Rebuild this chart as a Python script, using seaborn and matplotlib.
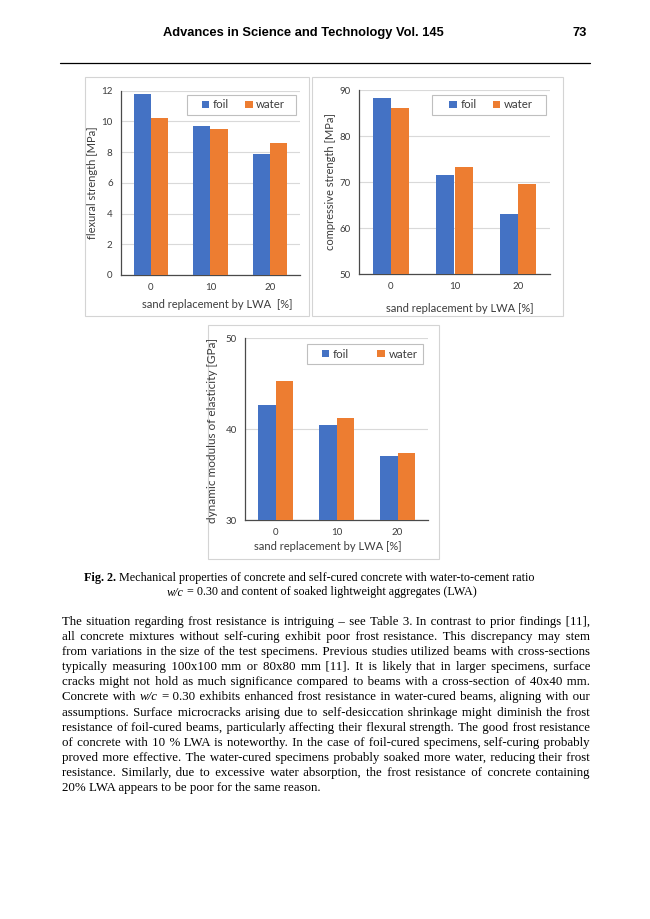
import numpy as np
import pandas as pd
import seaborn as sns
import matplotlib.pyplot as plt
from matplotlib.patches import Rectangle
from matplotlib.lines import Line2D

# data
lwa = ["0", "10", "20"]
curing = ["foil", "water"]
flex_foil = [11.8, 9.7, 7.9]
flex_water = [10.2, 9.5, 8.6]
comp_foil = [88.3, 71.5, 63.1]
comp_water = [86.1, 73.2, 69.6]
edyn_foil = [42.6, 40.4, 37.0]
edyn_water = [45.3, 41.2, 37.4]

colors = {"foil": "#4472C4", "water": "#ED7D31"}
txt_col = "#3c3c3c"

header = "Advances in Science and Technology Vol. 145"
page_no = "73"
caption_1 = [("bold", "Fig. 2."), ("normal", "Mechanical properties of concrete and self-cured concrete with water-to-cement ratio")]
caption_2 = [("italic", "w/c"), ("normal", "= 0.30 and content of soaked lightweight  aggregates (LWA)")]
body = [
    "The situation regarding frost resistance is intriguing – see Table 3. In contrast to prior findings [11],",
    "all concrete mixtures without self-curing exhibit poor frost resistance. This discrepancy may stem",
    "from variations in the size of the test specimens. Previous studies utilized beams with cross-sections",
    "typically measuring 100x100 mm or 80x80 mm [11]. It is likely that in larger specimens, surface",
    "cracks might not hold as much significance compared to beams with a cross-section of 40x40 mm.",
    "Concrete with w/c = 0.30 exhibits enhanced frost resistance in water-cured beams, aligning with our",
    "assumptions. Surface microcracks arising due to self-desiccation shrinkage might diminish the frost",
    "resistance of foil-cured beams, particularly affecting their flexural strength. The good frost resistance",
    "of concrete with 10 % LWA is noteworthy. In the case of foil-cured specimens, self-curing probably",
    "proved more effective. The water-cured specimens probably soaked more water, reducing their frost",
    "resistance. Similarly, due to excessive water absorption, the frost resistance of concrete containing",
    "20% LWA appears to be poor for the same reason.",
]
italic_words = {"w/c"}

W, H = 650, 919
sns.set_style("white")
plt.rcParams["font.family"] = ["Lato", "DejaVu Sans"]
fig = plt.figure(figsize=(W / 100, H / 100), dpi=100)
rend = fig.canvas.get_renderer()


def fx(x):
    return x / W


def fy(y):
    return 1 - y / H


def bar_panel(box, panel, foil, water, ylim, yticks, ylabel, ylab_xy, ylab_fs, xlabel, xlab_xy, legbox, colsp):
    fig.add_artist(Rectangle((fx(panel[0]), fy(panel[3])), fx(panel[2] - panel[0]), (panel[3] - panel[1]) / H,
                             transform=fig.transFigure, fill=False, ec="#d4d4d4", lw=0.8))
    ax = fig.add_axes([fx(box[0]), fy(box[3]), fx(box[2] - box[0]), (box[3] - box[1]) / H])
    df = pd.DataFrame({"lwa": lwa * 2, "curing": ["foil"] * 3 + ["water"] * 3, "val": foil + water})
    sns.barplot(data=df, x="lwa", y="val", hue="curing", hue_order=curing, palette=colors,
                width=0.57, gap=0, saturation=1, linewidth=0, ax=ax, zorder=3)
    ax.get_legend().remove()
    ax.set_xlim(-0.5, 2.5)
    ax.set_ylim(*ylim)
    ax.set_yticks(yticks)
    ax.set_xlabel("")
    ax.set_ylabel("")
    ax.yaxis.grid(True, color="#d9d9d9", lw=0.8, zorder=0)
    ax.set_axisbelow(True)
    for s in ["top", "right"]:
        ax.spines[s].set_visible(False)
    for s in ["left", "bottom"]:
        ax.spines[s].set_color("#4a4a4a")
        ax.spines[s].set_linewidth(0.9)
    ax.tick_params(axis="x", which="major", length=0, pad=6, labelsize=7, labelcolor=txt_col)
    ax.set_xticks([-0.5, 0.5, 1.5, 2.5], minor=True)
    ax.tick_params(axis="x", which="minor", direction="inout", length=5, width=0.9, color="#4a4a4a")
    ax.tick_params(axis="y", direction="out", length=4, width=0.9, color="#4a4a4a", pad=2,
                   labelsize=7, labelcolor=txt_col)
    fig.text(fx(ylab_xy[0]), fy(ylab_xy[1]), ylabel, rotation=90, ha="center", va="center",
             fontsize=ylab_fs, color=txt_col)
    fig.text(fx(xlab_xy[0]), fy(xlab_xy[1]), xlabel, ha="center", va="center", fontsize=8, color=txt_col)
    fig.add_artist(Rectangle((fx(legbox[0]), fy(legbox[3])), fx(legbox[2] - legbox[0]), (legbox[3] - legbox[1]) / H,
                             transform=fig.transFigure, fill=False, ec="#bfbfbf", lw=0.8))
    handles = [Rectangle((0, 0), 1, 1, fc=colors[c], lw=0) for c in curing]
    ax.legend(handles, curing, ncol=2, loc="center", frameon=False,
              bbox_to_anchor=(fx(legbox[4]), fy((legbox[1] + legbox[3]) / 2)),
              bbox_transform=fig.transFigure, handlelength=0.65, handleheight=0.65, handletextpad=0.3,
              columnspacing=colsp, borderpad=0, prop={"size": 8.3}, labelcolor=txt_col)
    return ax


bar_panel((121, 90.7, 300, 275), (85, 77, 309, 316), flex_foil, flex_water, (0, 12), np.arange(0, 13, 2),
          "flexural strength [MPa]", (93, 182.5), 8, "sand replacement by LWA  [%]", (217, 305),
          (187, 95, 296, 115, 243.5), 1.4)
bar_panel((359, 90, 550, 274), (312, 77, 563, 316), comp_foil, comp_water, (50, 90), np.arange(50, 91, 10),
          "compressive strength [MPa]", (330, 181.5), 8, "sand replacement by LWA [%]", (460, 308),
          (432, 95, 546, 115, 491), 1.4)
bar_panel((245, 338, 428, 520), (208, 325, 439, 559), edyn_foil, edyn_water, (30, 50), [30, 40, 50],
          "dynamic modulus of elasticity [GPa]", (213, 430), 8.5, "sand replacement by LWA [%]", (327.5, 547),
          (307, 344, 423, 364, 369.5), 2.5)

# page text
serif = ["Liberation Serif", "DejaVu Serif"]
fs = 9.25
fs_cap = 8.75
HAIR = "\u200a"
fig.text(fx(303), fy(33), header, ha="center", va="center", fontsize=fs, fontweight="bold",
         family=["Liberation Sans", "DejaVu Sans"], color="black")
fig.text(fx(587), fy(33), page_no, ha="right", va="center", fontsize=fs, fontweight="bold",
         family=["Liberation Sans", "DejaVu Sans"], color="black")
fig.add_artist(Line2D([fx(60), fx(590)], [fy(63.3), fy(63.3)], color="black", lw=0.9))


def make(s, style, size):
    kw = dict(fontsize=size, family=serif, color="black", va="baseline", ha="left")
    if style == "bold":
        kw["fontweight"] = "bold"
    if style == "italic":
        kw["fontstyle"] = "italic"
    return fig.text(0, 0, s, **kw)


def width(s, style, size):
    t = make(s, style, size)
    w = t.get_window_extent(rend).width
    t.remove()
    return w


def segments_of(line):
    segs = []
    for w in line.split():
        st = "italic" if w in italic_words else "normal"
        if segs and segs[-1][0] == st:
            segs[-1][1].append(w)
        else:
            segs.append((st, [w]))
    return segs


# pick a body size so the fullest line fits the 528 px measure
full = [width(l, "normal", fs) for l in body[:-1]]
fs_body = min(fs, fs * 527 / max(full))


def place(segs, y, size, x0, x1=None, justify=False):
    space = width("a a", "normal", size) - width("aa", "normal", size)
    hair = (width("a" + HAIR * 40 + "a", "normal", size) - width("aa", "normal", size)) / 40
    nat = [width(" ".join(ws), st, size) for st, ws in segs]
    ngap = sum(len(ws) for _, ws in segs) - 1
    extra = 0.0
    if justify and ngap > 0:
        extra = (x1 - x0 - sum(nat) - (len(segs) - 1) * space) / ngap
    g = 0
    x = x0
    for st, ws in segs:
        s = ws[0]
        for w in ws[1:]:
            k = int(round((g + 1) * extra / hair) - round(g * extra / hair)) if hair > 0.2 else 0
            s += " " + HAIR * k + w
            g += 1
        g += 1
        t = make(s, st, size)
        t.set_position((fx(x), fy(y)))
        x += t.get_window_extent(rend).width + space + extra


place([(st, s.split()) for st, s in caption_1], 581.5, fs_cap, 84)
place([(st, s.split()) for st, s in caption_2], 595.5, fs_cap, 167)

y0, dy = 624.5, 15.18
for i, line in enumerate(body):
    place(segments_of(line), y0 + i * dy, fs_body, 62, 590, justify=(i < len(body) - 1))

fig.savefig("out.png", dpi=100)
